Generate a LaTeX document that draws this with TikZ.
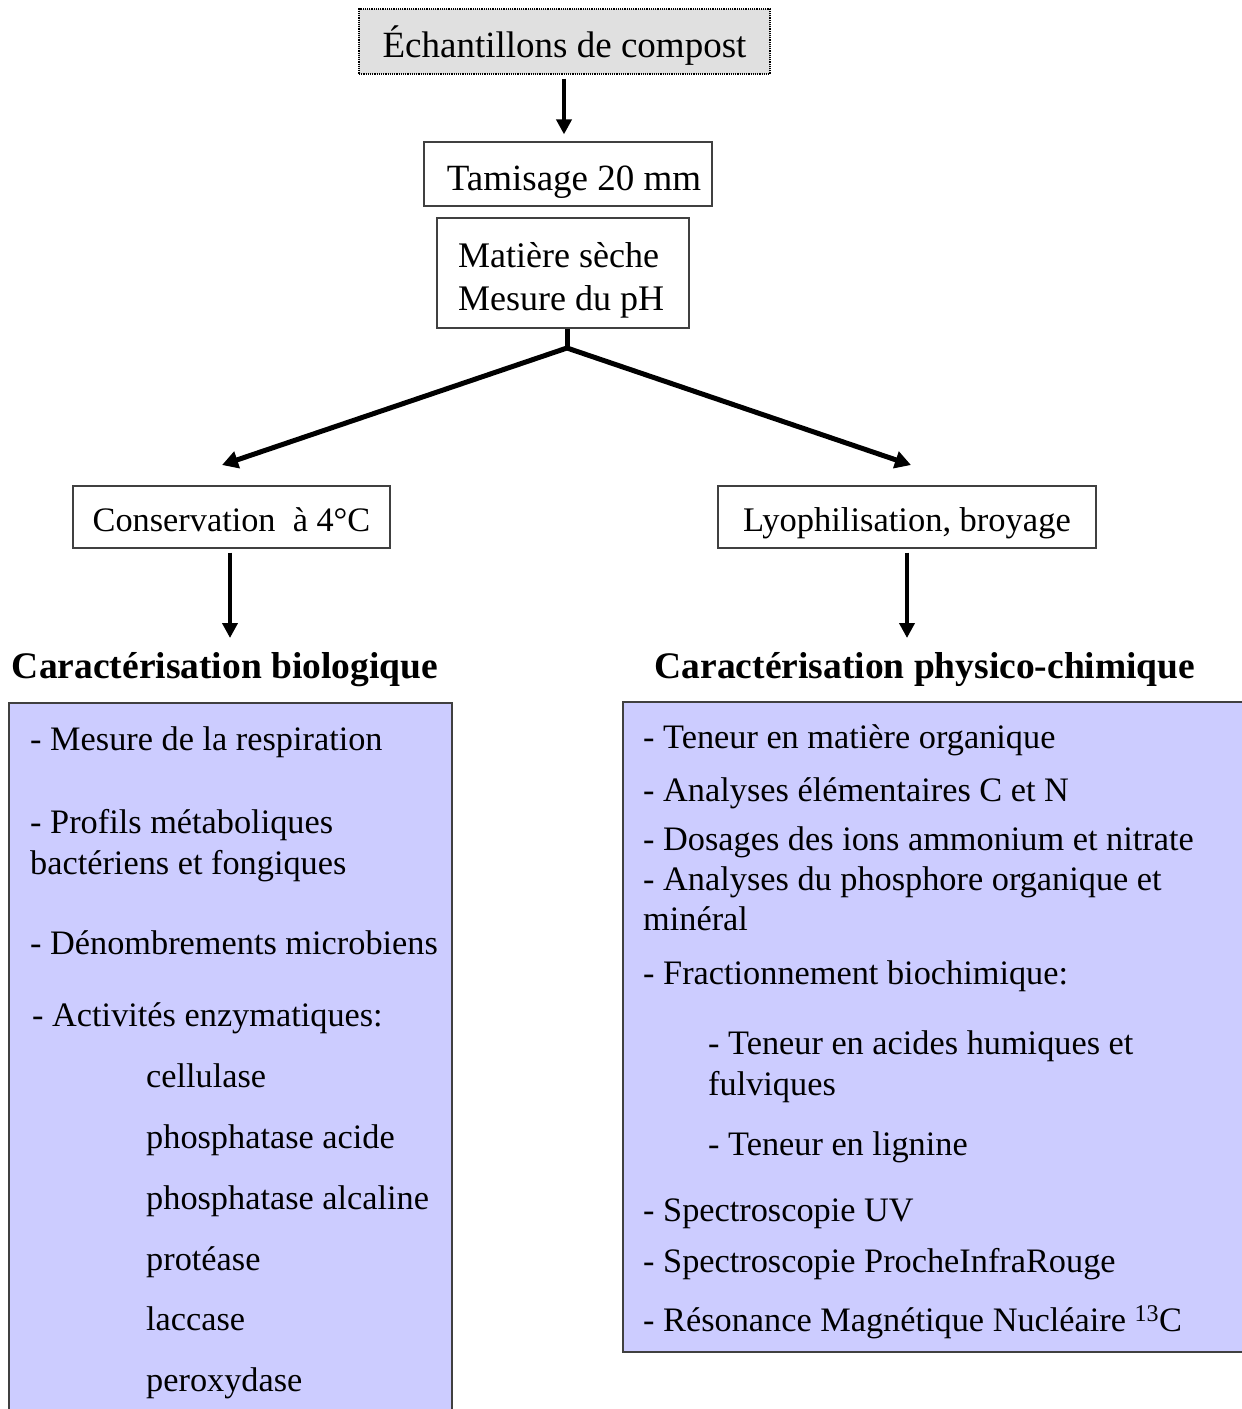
\documentclass[tikz,border=0pt]{standalone}
\usepackage{fontspec}
\setmainfont{Liberation Serif}
\usetikzlibrary{arrows.meta}
\definecolor{boxblue}{HTML}{CCCCFF}
\definecolor{topgray}{HTML}{E0E0E0}
\definecolor{edge}{HTML}{404040}
\begin{document}
\begin{tikzpicture}[x=1pt,y=-1pt,
  procbox/.style={draw=edge,line width=1.2pt,fill=white,inner sep=0pt,text height=31pt,text depth=2pt,font=\fontsize{34.3}{40}\selectfont},
  arr/.style={line width=4pt,-{Triangle[length=15pt,width=15pt]}},
  heavy/.style={line width=5pt,-{Triangle[length=16pt,width=17pt]}},
  item/.style={anchor=base west,inner sep=0pt,font=\fontsize{34.3}{40}\selectfont},
  headtxt/.style={anchor=base,inner sep=0pt,font=\fontsize{37.5}{42}\selectfont\bfseries},
  listbox/.style={draw=edge,line width=1.5pt,fill=boxblue}]
\useasboundingbox (0,0) rectangle (1242,1409);
% lists backgrounds
\draw[listbox] (9,703) rectangle (452,1425);
\draw[listbox] (623,702) rectangle (1255,1352);
% process boxes
\node[procbox,draw=black,densely dotted,fill=topgray,minimum width=411pt,minimum height=65pt,text height=33pt,text depth=2pt,font=\fontsize{37}{42}\selectfont] (ech) at (564.5,41.5) {\'Echantillons de compost};
\node[procbox,minimum width=288pt,minimum height=64pt,text height=35pt,text depth=2pt,font=\fontsize{37}{42}\selectfont] (tam) at (568,174) {\hspace*{12pt}Tamisage 20 mm};
\node[procbox,minimum width=252pt,minimum height=110pt] (ms) at (563,273) {};
\node[item,font=\fontsize{36}{43}\selectfont] (ms1) at (458,267) {Mati\`ere s\`eche};
\node[item,font=\fontsize{36}{43}\selectfont] (ms2) at (458,310) {Mesure du pH};
\node[procbox,minimum width=317pt,minimum height=62pt] (cons) at (231.5,517) {Conservation\ \ \`a 4\textdegree C};
\node[procbox,minimum width=378pt,minimum height=62pt,font=\fontsize{34.5}{40}\selectfont] (lyo) at (907,517) {Lyophilisation, broyage};
% headings
\node[headtxt] (hbio) at (225,678) {Caract\'erisation biologique};
\node[headtxt] (hphy) at (925,678) {Caract\'erisation physico-chimique};
% connectors
\coordinate (split) at (567,348);
\coordinate (tl) at (222,465);
\coordinate (tr) at (911,465);
\draw[arr,shorten <=4pt,shorten >=7pt] (ech.south -| 564,0) -- (tam.north -| 564,0);
\draw[line width=5pt] (ms.south -| split) -- (split);
\draw[heavy] (split) -- (tl);
\draw[heavy] (split) -- (tr);
\draw[arr] (cons.south -| 230,0) ++(0,4) -- (230,638);
\draw[arr] (lyo.south -| 907,0) ++(0,4) -- (907,638);
% left list
\node[item] (b1) at (30,750) {- Mesure de la respiration};
\node[item] (b2) at (30,833) {- Profils m\'etaboliques};
\node[item] (b3) at (30,874) {bact\'eriens et fongiques};
\node[item] (b4) at (30,954) {- D\'enombrements microbiens};
\node[item] (b5) at (32,1026) {- Activit\'es enzymatiques:};
\node[item] (b6) at (146,1087) {cellulase};
\node[item] (b7) at (146,1148) {phosphatase acide};
\node[item] (b8) at (146,1209) {phosphatase alcaline};
\node[item] (b9) at (146,1270) {prot\'ease};
\node[item] (b10) at (146,1330) {laccase};
\node[item] (b11) at (146,1391) {peroxydase};
% right list
\node[item] (p1) at (643,748) {- Teneur en mati\`ere organique};
\node[item] (p2) at (643,801) {- Analyses \'el\'ementaires C et N};
\node[item] (p3) at (643,850) {- Dosages des ions ammonium et nitrate};
\node[item] (p4) at (643,890) {- Analyses du phosphore organique et};
\node[item] (p5) at (643,930) {min\'eral};
\node[item] (p6) at (643,984) {- Fractionnement biochimique:};
\node[item] (p7) at (708,1054) {- Teneur en acides humiques et};
\node[item] (p8) at (708,1095) {fulviques};
\node[item] (p9) at (708,1155) {- Teneur en lignine};
\node[item] (p10) at (643,1221) {- Spectroscopie UV};
\node[item] (p11) at (643,1272) {- Spectroscopie ProcheInfraRouge};
\node[item] (p12) at (643,1331) {- R\'esonance Magn\'etique Nucl\'eaire \textsuperscript{13}C};
\end{tikzpicture}
\end{document}
